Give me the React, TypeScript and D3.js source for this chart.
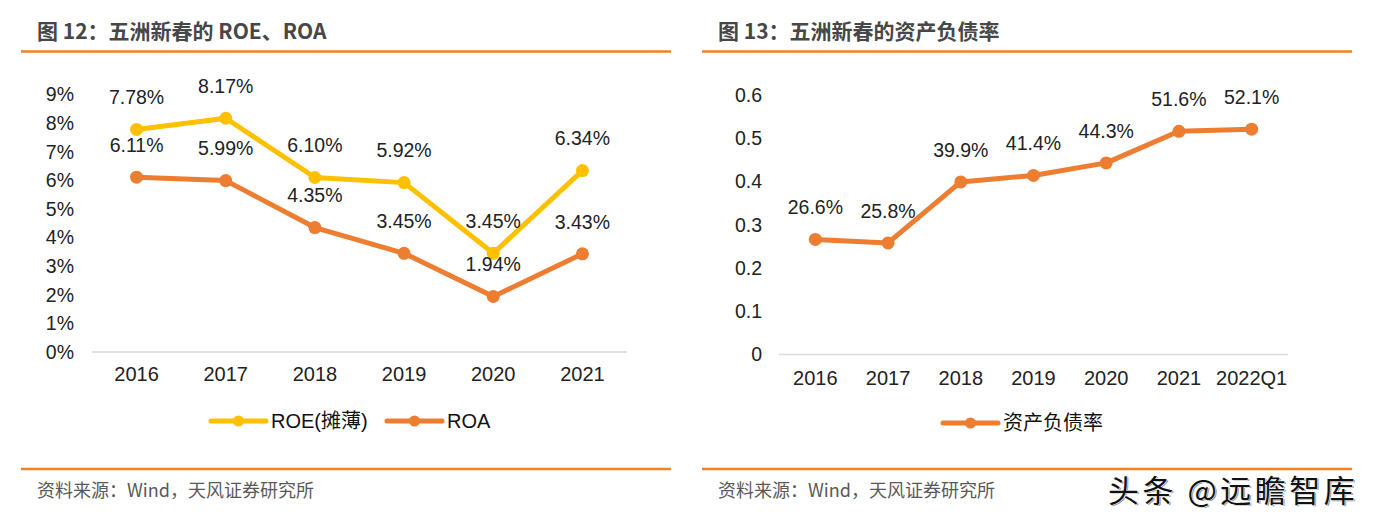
import * as d3 from "d3";

const roeYears = ["2016", "2017", "2018", "2019", "2020", "2021"];
const roeValues = [7.78, 8.17, 6.1, 5.92, 3.45, 6.34];
const roaValues = [6.11, 5.99, 4.35, 3.45, 1.94, 3.43];
const roeTicks = [0, 1, 2, 3, 4, 5, 6, 7, 8, 9];

const debtCats = ["2016", "2017", "2018", "2019", "2020", "2021", "2022Q1"];
const debtValues = [0.266, 0.258, 0.399, 0.414, 0.443, 0.516, 0.521];
const debtTicks = [0, 0.1, 0.2, 0.3, 0.4, 0.5, 0.6];

const YELLOW = "#FFC000";
const ORANGE = "#ED7D31";
const RULE = "#F08224";
const FONT = "'Liberation Sans', Arial, 'Noto Sans CJK SC', sans-serif";
const CJK = "'Noto Sans CJK SC', 'Liberation Sans', sans-serif";

type Series = { name: string; values: number[]; color: string; fmt: (v: number) => string };

function LineChart({
  cats,
  series,
  ticks,
  tickFmt,
  x0,
  x1,
  yTop,
  yBottom,
  labelRight,
  xLabelY,
}: {
  cats: string[];
  series: Series[];
  ticks: number[];
  tickFmt: (v: number) => string;
  x0: number;
  x1: number;
  yTop: number;
  yBottom: number;
  labelRight: number;
  xLabelY: number;
}) {
  const x = d3.scaleBand().domain(cats).range([x0, x1]);
  const y = d3
    .scaleLinear()
    .domain([ticks[0], ticks[ticks.length - 1]])
    .range([yBottom, yTop]);
  const cx = (c: string) => (x(c) ?? 0) + x.bandwidth() / 2;
  const line = d3
    .line<number>()
    .x((_, i) => cx(cats[i]))
    .y((v) => y(v));

  return (
    <g>
      {ticks.map((t) => (
        <text key={t} x={labelRight} y={y(t)} dy="0.35em" textAnchor="end" fontSize={19.5} fill="#222" fontFamily={FONT}>
          {tickFmt(t)}
        </text>
      ))}
      <line x1={x0} x2={x1} y1={yBottom} y2={yBottom} stroke="#d9d9d9" strokeWidth={1.5} />
      {cats.map((c) => (
        <text key={c} x={cx(c)} y={xLabelY} dy="0.35em" textAnchor="middle" fontSize={20} fill="#222" fontFamily={FONT}>
          {c}
        </text>
      ))}
      {series.map((s) => (
        <g key={s.name}>
          <path d={line(s.values) ?? ""} fill="none" stroke={s.color} strokeWidth={5} strokeLinejoin="round" />
          {s.values.map((v, i) => (
            <circle key={i} cx={cx(cats[i])} cy={y(v)} r={6.5} fill={s.color} />
          ))}
        </g>
      ))}
      {series.map((s) =>
        s.values.map((v, i) => (
          <text
            key={s.name + i}
            x={cx(cats[i])}
            y={y(v) - 32}
            dy="0.35em"
            textAnchor="middle"
            fontSize={19.5}
            fill="#222"
            fontFamily={FONT}
          >
            {s.fmt(v)}
          </text>
        )),
      )}
    </g>
  );
}

function LegendItem({ x, y, color, label }: { x: number; y: number; color: string; label: string }) {
  return (
    <g>
      <line x1={x} x2={x + 55} y1={y} y2={y} stroke={color} strokeWidth={5} strokeLinecap="round" />
      <circle cx={x + 27.5} cy={y} r={5.5} fill={color} />
      <text x={x + 60} y={y} dy="0.35em" fontSize={20} fill="#111" fontFamily={FONT}>
        {label}
      </text>
    </g>
  );
}

function Panel({ left, right, title }: { left: number; right: number; title: string }) {
  return (
    <g>
      <text x={left + 16} y={32} dy="0.35em" fontSize={21} fontWeight="bold" fill="#474747" fontFamily={CJK}>
        {title}
      </text>
      <line x1={left} x2={right} y1={51.5} y2={51.5} stroke={RULE} strokeWidth={2.5} />
      <line x1={left} x2={right} y1={469} y2={469} stroke={RULE} strokeWidth={2.5} />
      <text x={left + 16} y={491} dy="0.35em" fontSize={18} fill="#595959" fontFamily={CJK}>
        资料来源：Wind，天风证券研究所
      </text>
    </g>
  );
}

export default function App() {
  const pct2 = (v: number) => v.toFixed(2) + "%";
  const pct1 = (v: number) => (v * 100).toFixed(1) + "%";
  return (
    <svg
      width={1376}
      height={523}
      viewBox="0 0 1376 523"
      style={{ position: "absolute", left: 0, top: 0, background: "#fff" }}
    >
      <rect width={1376} height={523} fill="#fff" />
      <Panel left={21} right={671} title="图 12：五洲新春的 ROE、ROA" />
      <Panel left={702} right={1352} title="图 13：五洲新春的资产负债率" />

      <LineChart
        cats={roeYears}
        series={[
          { name: "ROE(摊薄)", values: roeValues, color: YELLOW, fmt: pct2 },
          { name: "ROA", values: roaValues, color: ORANGE, fmt: pct2 },
        ]}
        ticks={roeTicks}
        tickFmt={(t) => t + "%"}
        x0={92}
        x1={627}
        yTop={94.5}
        yBottom={352}
        labelRight={74}
        xLabelY={374}
      />
      <LegendItem x={211} y={421} color={YELLOW} label="ROE(摊薄)" />
      <LegendItem x={387} y={421} color={ORANGE} label="ROA" />

      <LineChart
        cats={debtCats}
        series={[{ name: "资产负债率", values: debtValues, color: ORANGE, fmt: pct1 }]}
        ticks={debtTicks}
        tickFmt={(t) => String(t)}
        x0={779}
        x1={1288}
        yTop={95}
        yBottom={354.5}
        labelRight={762}
        xLabelY={378}
      />
      <LegendItem x={943} y={423} color={ORANGE} label="资产负债率" />

      <g fontFamily={CJK} fontSize={31} letterSpacing={3.5}>
        <text x={1108} y={491} dy="0.35em" fill="#999" transform="translate(1.5,1.5)">
          头条 @远瞻智库
        </text>
        <text x={1108} y={491} dy="0.35em" fill="#111" stroke="#fff" strokeWidth={1} paintOrder="stroke">
          头条 @远瞻智库
        </text>
      </g>
    </svg>
  );
}
